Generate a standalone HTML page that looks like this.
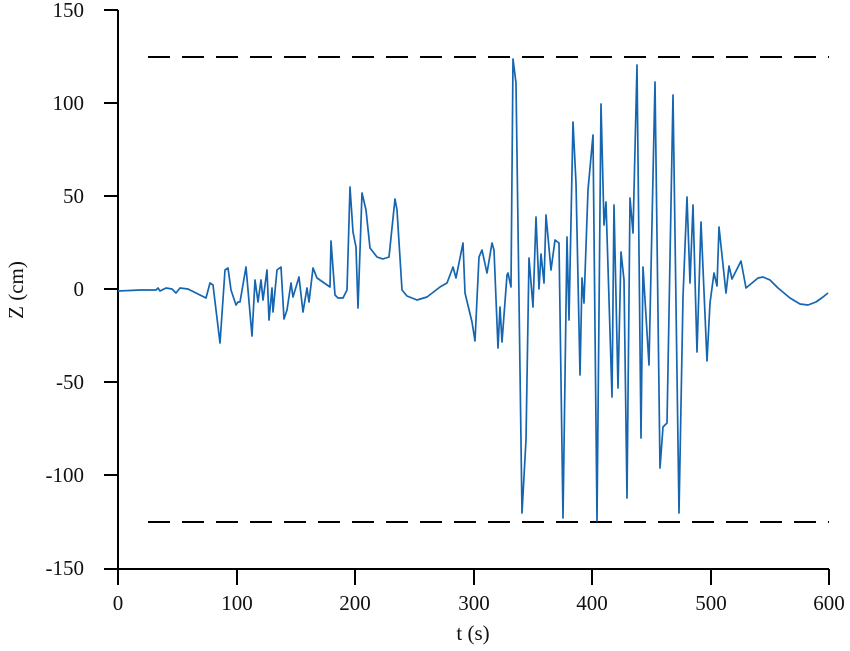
<!DOCTYPE html>
<html><head><meta charset="utf-8"><style>body{margin:0;background:#fff}</style></head>
<body>
<svg width="850" height="646" viewBox="0 0 850 646" xmlns="http://www.w3.org/2000/svg" font-family="Liberation Serif, serif" font-size="21" fill="#111">
<g stroke="#000" stroke-width="2" fill="none">
<line x1="118" y1="10" x2="118" y2="570"/>
<line x1="117" y1="569" x2="829" y2="569"/>
<line x1="104" y1="10" x2="118" y2="10"/><line x1="104" y1="103" x2="118" y2="103"/><line x1="104" y1="196" x2="118" y2="196"/><line x1="104" y1="289" x2="118" y2="289"/><line x1="104" y1="382" x2="118" y2="382"/><line x1="104" y1="475" x2="118" y2="475"/><line x1="104" y1="569" x2="118" y2="569"/>
<line x1="118" y1="569" x2="118" y2="585"/><line x1="237" y1="569" x2="237" y2="585"/><line x1="355" y1="569" x2="355" y2="585"/><line x1="474" y1="569" x2="474" y2="585"/><line x1="592" y1="569" x2="592" y2="585"/><line x1="711" y1="569" x2="711" y2="585"/><line x1="829" y1="569" x2="829" y2="585"/>
<line x1="148" y1="57" x2="829" y2="57" stroke-dasharray="22,12"/>
<line x1="148" y1="522" x2="829" y2="522" stroke-dasharray="22,12"/>
</g>
<g text-anchor="end">
<text x="84" y="17">150</text><text x="84" y="110">100</text><text x="84" y="203">50</text><text x="84" y="296">0</text><text x="84" y="389">-50</text><text x="84" y="482">-100</text><text x="84" y="575">-150</text>
</g>
<g text-anchor="middle">
<text x="118" y="610">0</text><text x="237" y="610">100</text><text x="355" y="610">200</text><text x="474" y="610">300</text><text x="592" y="610">400</text><text x="711" y="610">500</text><text x="829" y="610">600</text>
<text x="473" y="640">t (s)</text>
<text transform="translate(23,290) rotate(-90)">Z (cm)</text>
</g>
<polyline fill="none" stroke="#1565b0" stroke-width="1.7" stroke-linejoin="round" points="118,291 140,290 156,290 158,288 160,291 166,288 172,289 176,293 180,288 188,289 206,298 210,283 213,285 220,343 225,270 228,268 231,290 236,305 238,302 240,302 246,267 252,336 255,280 258,302 261,280 263,300 267,270 269,320 272,288 273,312 277,270 281,267 284,319 287,310 291,283 293,297 299,277 303,312 307,288 309,302 313,268 317,278 330,287 331,241 335,295 338,298 343,298 347,290 350,187 353,232 356,247 358,308 362,193 366,210 370,248 377,257 383,259 389,257 395,199 397,210 402,290 407,296 417,300 427,297 440,287 447,283 453,267 456,278 463,243 465,293 472,322 475,341 479,257 482,250 487,273 492,243 494,250 498,348 500,307 502,342 507,275 508,273 511,287 513,59 516,83 522,513 526,440 529,258 533,307 536,217 539,289 541,254 544,283 546,215 551,270 555,240 559,243 563,518 567,237 569,320 573,122 576,183 580,375 582,278 584,303 588,190 593,135 597,521 601,104 604,225 606,202 612,397 614,205 618,388 621,252 624,280 627,498 630,198 633,233 637,65 641,438 643,267 649,365 655,82 660,468 663,427 667,423 673,95 679,513 683,297 687,197 690,283 693,205 697,352 701,222 707,361 710,303 714,273 717,286 719,227 726,293 729,266 732,279 741,261 746,288 752,283 758,278 763,277 770,280 778,288 790,298 800,304 808,305 816,302 823,297 828,293"/>
</svg>
</body></html>
